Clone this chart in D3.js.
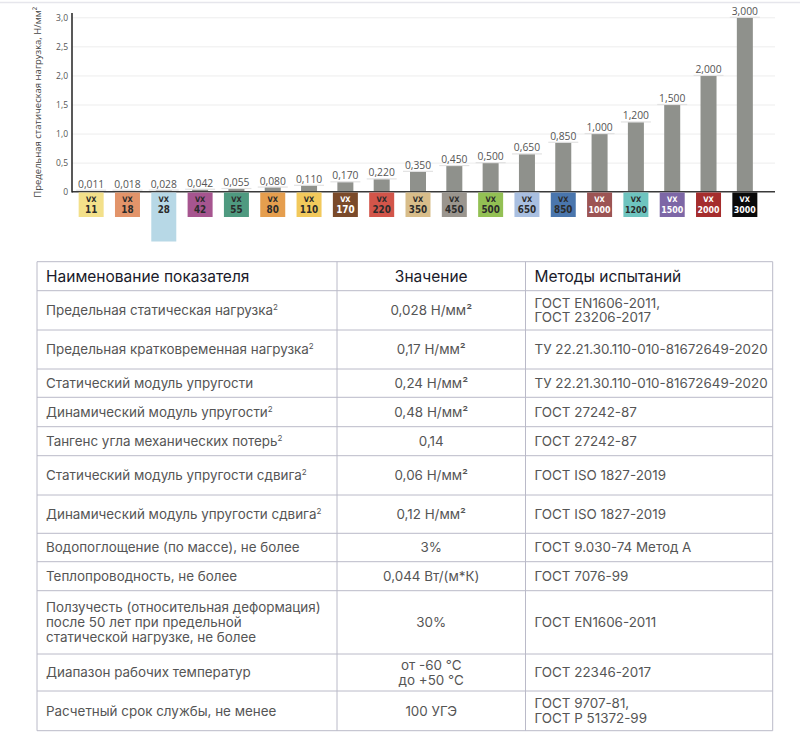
<!DOCTYPE html>
<html>
<head>
<meta charset="utf-8">
<script src="https://cdn.jsdelivr.net/npm/d3@7"></script>
<style>
  body { margin: 0; background: #fff; }
  svg { display: block; }
</style>
</head>
<body>
<div id="vis"></div>
<script>
// Data ------------------------------------------------------------------------
const grades = ["11", "18", "28", "42", "55", "80", "110", "170", "220", "350",
  "450", "500", "650", "850", "1000", "1200", "1500", "2000", "3000"];
const loads = [0.011, 0.018, 0.028, 0.042, 0.055, 0.080, 0.110, 0.170, 0.220, 0.350,
  0.450, 0.500, 0.650, 0.850, 1.000, 1.200, 1.500, 2.000, 3.000];
const gradeColors = ["#f3e08a", "#e2946a", "#b7d8e6", "#a6558f", "#4f9a80", "#e59e4e",
  "#f2c95c", "#7a4a2a", "#d2554a", "#d8bd8a", "#9a958e", "#93c054", "#a9bfe0",
  "#4a76ad", "#9c5454", "#6ec4bf", "#7d67a6", "#a52d2d", "#0a0a0a"];
const whiteTextGrades = ["170", "1000", "1500", "2000", "3000"];
const highlightedGrade = "28";
const yTicks = [0, 0.5, 1.0, 1.5, 2.0, 2.5, 3.0];
const yTitle = "Предельная статическая нагрузка, Н/мм²";

const tableHeader = ["Наименование показателя", "Значение", "Методы испытаний"];
const paramNames = [
  ["Предельная статическая нагрузка"],
  ["Предельная кратковременная нагрузка"],
  ["Статический модуль упругости"],
  ["Динамический модуль упругости"],
  ["Тангенс угла механических потерь"],
  ["Статический модуль упругости сдвига"],
  ["Динамический модуль упругости сдвига"],
  ["Водопоглощение (по массе), не более"],
  ["Теплопроводность, не более"],
  ["Ползучесть (относительная деформация)", "после 50 лет при предельной", "статической нагрузке, не более"],
  ["Диапазон рабочих температур"],
  ["Расчетный срок службы, не менее"]
];
const paramNotes = [true, true, false, true, true, true, true, false, false, false, false, false];
const paramValues = [
  ["0,028 Н/мм²"], ["0,17 Н/мм²"], ["0,24 Н/мм²"], ["0,48 Н/мм²"], ["0,14"],
  ["0,06 Н/мм²"], ["0,12 Н/мм²"], ["3%"], ["0,044 Вт/(м*К)"], ["30%"],
  ["от -60 °C", "до +50 °C"], ["100 УГЭ"]
];
const testMethods = [
  ["ГОСТ EN1606-2011,", "ГОСТ 23206-2017"],
  ["ТУ 22.21.30.110-010-81672649-2020"],
  ["ТУ 22.21.30.110-010-81672649-2020"],
  ["ГОСТ 27242-87"],
  ["ГОСТ 27242-87"],
  ["ГОСТ ISO 1827-2019"],
  ["ГОСТ ISO 1827-2019"],
  ["ГОСТ 9.030-74 Метод А"],
  ["ГОСТ 7076-99"],
  ["ГОСТ EN1606-2011"],
  ["ГОСТ 22346-2017"],
  ["ГОСТ 9707-81,", "ГОСТ Р 51372-99"]
];

// Canvas ----------------------------------------------------------------------
const canvasWidth = 800;
const canvasHeight = 748;

const svg = d3.select("#vis")
  .append("svg")
  .attr("width", canvasWidth)
  .attr("height", canvasHeight)
  .attr("viewBox", [0, 0, canvasWidth, canvasHeight]);

const ruFormat = d3.formatLocale({ decimal: ",", thousands: " ", grouping: [3], currency: ["", ""] });
const valueFormat = ruFormat.format(".3f");
const tickFormat = d => d === 0 ? "0" : ruFormat.format(".1f")(d);

// top divider line
svg.append("line")
  .attr("x1", 0).attr("x2", canvasWidth)
  .attr("y1", 2.5).attr("y2", 2.5)
  .style("stroke", "#e6e6ec")
  .style("stroke-width", 1.5);

// Chart -----------------------------------------------------------------------
const axisX = 72;
const plotRight = 775;
const baseY = 191.7;
const topY = 17.3;

const xScale = d3.scalePoint()
  .domain(grades)
  .range([73, 763])
  .padding(0.5);
const yScale = d3.scaleLinear()
  .domain([0, 3])
  .range([baseY, topY]);
const colorScale = d3.scaleOrdinal(grades, gradeColors);

const barWidth = 16;
const boxWidth = 25;
const boxHeight = 24.5;

// gridlines
svg.append("g")
  .attr("class", "grid")
  .attr("transform", "translate(" + axisX + ",0)")
  .call(d3.axisLeft(yScale).tickValues(yTicks.slice(1)).tickSize(-(plotRight - axisX)).tickFormat(""))
  .call(g => g.select(".domain").remove())
  .selectAll("line")
  .style("stroke", "#ededed")
  .style("stroke-width", 1);

// y tick labels
const yAxis = svg.append("g")
  .attr("transform", "translate(" + (axisX - 4) + ",0)")
  .call(d3.axisLeft(yScale).tickValues(yTicks).tickSize(0).tickPadding(0).tickFormat(tickFormat));
yAxis.select(".domain").remove();
yAxis.selectAll("text")
  .style("font-family", "'Open Sans', sans-serif")
  .style("font-size", "8.5px")
  .style("fill", "#555");

// y axis title
svg.append("text")
  .text(yTitle)
  .attr("transform", "translate(41," + ((baseY + 13) / 2) + ") rotate(-90)")
  .style("text-anchor", "middle")
  .style("font-family", "'Open Sans', sans-serif")
  .style("font-size", "9.5px")
  .style("fill", "#444");

const barGroup = svg.append("g");

// bars
barGroup.selectAll("rect.bar")
  .data(grades)
  .join("rect")
  .attr("class", "bar")
  .attr("x", (d) => xScale(d) - barWidth / 2)
  .attr("y", (d, i) => yScale(loads[i]))
  .attr("width", barWidth)
  .attr("height", (d, i) => baseY - yScale(loads[i]))
  .attr("fill", "#8f918c");

// value underline + label
barGroup.selectAll("line.under")
  .data(grades)
  .join("line")
  .attr("class", "under")
  .attr("x1", d => xScale(d) - 15)
  .attr("x2", d => xScale(d) + 15)
  .attr("y1", (d, i) => Math.min(yScale(loads[i]), baseY - 1.5))
  .attr("y2", (d, i) => Math.min(yScale(loads[i]), baseY - 1.5))
  .style("stroke", "#e2e2e2")
  .style("stroke-width", 1.2);

barGroup.selectAll("text.value")
  .data(grades)
  .join("text")
  .attr("class", "value")
  .attr("x", d => xScale(d))
  .attr("y", (d, i) => Math.min(yScale(loads[i]), baseY - 1.5) - 2.5)
  .text((d, i) => valueFormat(loads[i]))
  .style("text-anchor", "middle")
  .style("font-family", "'Open Sans', sans-serif")
  .style("font-size", "10.3px")
  .style("fill", "#555");

// baseline and y axis line
svg.append("line")
  .attr("x1", axisX).attr("x2", plotRight)
  .attr("y1", baseY).attr("y2", baseY)
  .style("stroke", "#3a3a3a")
  .style("stroke-width", 1.5);
svg.append("line")
  .attr("x1", axisX).attr("x2", axisX)
  .attr("y1", 13).attr("y2", baseY + 0.7)
  .style("stroke", "#222")
  .style("stroke-width", 1.5);

// grade boxes
const boxes = svg.append("g")
  .selectAll("g.grade")
  .data(grades)
  .join("g")
  .attr("class", "grade")
  .attr("transform", d => "translate(" + xScale(d) + "," + (baseY + 0.8) + ")");

boxes.append("rect")
  .attr("x", -boxWidth / 2)
  .attr("y", 0)
  .attr("width", boxWidth)
  .attr("height", d => d === highlightedGrade ? boxHeight * 2 : boxHeight)
  .attr("fill", d => colorScale(d));

boxes.append("text")
  .text("VX")
  .attr("y", 9.5)
  .style("text-anchor", "middle")
  .style("font-family", "'DejaVu Sans Condensed', 'DejaVu Sans', sans-serif")
  .style("font-weight", "bold")
  .style("font-size", "7.5px")
  .style("fill", d => whiteTextGrades.includes(d) ? "#fff" : "#2b2b2b");

boxes.append("text")
  .text(d => d)
  .attr("y", 20.5)
  .style("text-anchor", "middle")
  .style("font-family", "'DejaVu Sans Condensed', 'DejaVu Sans', sans-serif")
  .style("font-weight", "bold")
  .style("font-size", d => d.length > 3 ? "8.8px" : "9.8px")
  .style("fill", d => whiteTextGrades.includes(d) ? "#fff" : "#2b2b2b");

// Table -----------------------------------------------------------------------
const tableLeft = 37;
const colEdges = [37, 337, 525.5, 772.7];
const tableTop = 261.7;
const rowHeights = [29, 39.3, 39, 28.3, 29.4, 29, 39.3, 38.3, 28.4, 29, 63.3, 37, 39.7];
const lineHeight = 14.8;
const borderColor = "#babac8";

const rowTops = [tableTop];
rowHeights.forEach((h, i) => rowTops.push(rowTops[i] + h));

const rows = paramNames.map((p, i) => ({
  cells: [p, paramValues[i], testMethods[i]],
  note: paramNotes[i]
}));

const table = svg.append("g").attr("class", "table");

// horizontal borders
table.selectAll("line.h")
  .data(rowTops)
  .join("line")
  .attr("class", "h")
  .attr("x1", colEdges[0]).attr("x2", colEdges[3])
  .attr("y1", d => d).attr("y2", d => d)
  .style("stroke", borderColor)
  .style("stroke-width", 1);

// vertical borders
table.selectAll("line.v")
  .data(colEdges)
  .join("line")
  .attr("class", "v")
  .attr("x1", d => d).attr("x2", d => d)
  .attr("y1", tableTop).attr("y2", rowTops[rowTops.length - 1])
  .style("stroke", borderColor)
  .style("stroke-width", 1);

const cellX = [tableLeft + 9, (colEdges[1] + colEdges[2]) / 2, colEdges[2] + 9];
const cellAnchor = ["start", "middle", "start"];

// header
table.selectAll("text.head")
  .data(tableHeader)
  .join("text")
  .attr("class", "head")
  .attr("x", (d, i) => cellX[i])
  .attr("y", rowTops[0] + rowHeights[0] / 2)
  .attr("dy", "0.35em")
  .text(d => d)
  .style("text-anchor", (d, i) => cellAnchor[i])
  .style("font-family", "Inter, sans-serif")
  .style("font-size", "15.5px")
  .style("fill", "#1a1a2a");

// body
rows.forEach((row, r) => {
  const midY = rowTops[r + 1] + rowHeights[r + 1] / 2;
  row.cells.forEach((lines, c) => {
    const text = table.append("text")
      .attr("x", cellX[c])
      .attr("y", midY - (lines.length - 1) * lineHeight / 2)
      .attr("dy", "0.35em")
      .style("text-anchor", cellAnchor[c])
      .style("font-family", "Inter, sans-serif")
      .style("font-size", "13.4px")
      .style("fill", "#555");
    lines.forEach((line, k) => {
      text.append("tspan")
        .attr("x", cellX[c])
        .attr("dy", k === 0 ? "0.35em" : lineHeight)
        .text(line);
    });
    if (c === 0 && row.note) {
      text.append("tspan")
        .attr("dy", -5)
        .style("font-size", "8px")
        .text("2");
    }
  });
});
</script>
</body>
</html>
